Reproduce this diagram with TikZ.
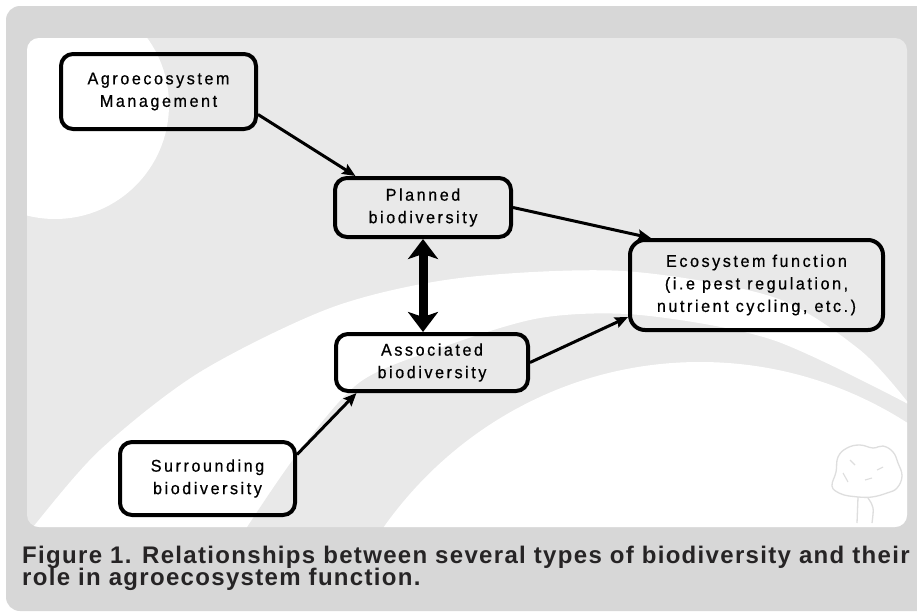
\documentclass[tikz,border=0pt]{standalone}
\usepackage{fontspec}
\usepackage{tikz}
\usetikzlibrary{arrows.meta, calc}
\newfontfamily\boxfont[LetterSpace=15, FakeStretch=0.95, FakeBold=0.6]{Liberation Sans}
\newfontfamily\capfont[LetterSpace=5.5]{Liberation Sans}
\definecolor{framecolor}{RGB}{215, 215, 215}
\definecolor{panelcolor}{RGB}{233, 233, 233}
\definecolor{treecolor}{RGB}{222, 222, 222}
\definecolor{captioncolor}{RGB}{38, 36, 37}

\begin{document}
\begin{tikzpicture}[x=1pt, y=-1pt, every node/.style={align=center},
    bio/.style={draw, line width=4pt, rounded corners=12pt, inner sep=0pt, font=\boxfont\fontsize{17}{22.5}\selectfont},
    flow/.style={-{Stealth[length=13pt, width=11pt, inset=2pt]}, line width=3pt},
    biflow/.style={{Stealth[length=20pt, width=30pt, inset=5pt]}-{Stealth[length=20pt, width=30pt, inset=5pt]}, line width=9pt},
    caption/.style={anchor=base west, inner sep=0pt, text=captioncolor, font=\capfont\bfseries\fontsize{24}{22}\selectfont}]
        \useasboundingbox (0, 0) rectangle (917, 613);
        \clip (0, 0) rectangle (917, 613);
        
        % Frame and panel
        \fill[framecolor, rounded corners=14pt] (6, 6) rectangle (940, 611);
        \fill[panelcolor, rounded corners=12pt] (27, 38) rectangle (907, 527);
        
        % Background swooshes
        \begin{scope}
            \clip[rounded corners=12pt] (27, 38) rectangle (907, 527);
            \fill[white] (55, 105) circle (114);
            \fill[white] plot[smooth] coordinates {(20, 545) (33, 527) (100, 450) (200, 372) (333, 307) (460, 278) (623, 271) (773, 297) (860, 350) (910, 405)}
                -- plot[smooth] coordinates {(910, 405) (773, 340) (640, 315) (540, 318) (440, 348) (360, 382) (300, 450) (247, 527) (238, 545)} -- cycle;
            \fill[white] (700, 760) ellipse (390 and 398);
        \end{scope}
        
        % Tree
        \draw[treecolor, line width=1.3pt] plot[smooth cycle, tension=0.7] coordinates {(832, 486) (836, 472) (838, 457) (847, 448) (860, 445) (873, 448) (883, 446) (893, 452) (898, 463) (902, 476) (897, 488) (887, 493) (872, 497) (858, 497) (849, 496) (839, 493)};
        \draw[treecolor, line width=1.3pt] (858, 497) -- (857, 523);
        \draw[treecolor, line width=1.3pt] (868, 498) .. controls (874, 507) .. (872, 523);
        \draw[treecolor, line width=1.1pt] (850, 460) -- (855, 465);
        \draw[treecolor, line width=1.1pt] (843, 473) -- (848, 482);
        \draw[treecolor, line width=1.1pt] (877, 470) -- (883, 467);
        \draw[treecolor, line width=1.1pt] (865, 480) -- (872, 478);
        
        % Biodiversity boxes
        \node[bio, minimum width=195pt, minimum height=75pt] (agro) at (158.5, 91.5) {Agroecosystem\\Management};
        \node[bio, minimum width=176pt, minimum height=59pt] (planned) at (423, 207.5) {Planned\\biodiversity};
        \node[bio, minimum width=192pt, minimum height=57pt] (assoc) at (432, 362.5) {Associated\\biodiversity};
        \node[bio, minimum width=253pt, minimum height=90pt, rounded corners=15pt] (eco) at (756.5, 285) {Ecosystem function\\(i.e pest regulation,\\nutrient cycling, etc.)};
        \node[bio, minimum width=175pt, minimum height=73pt] (surr) at (207.5, 478.5) {Surrounding\\biodiversity};
        
        % Connections
        \draw[flow] (agro.-13) -- (planned.155.6);
        \draw[flow] (planned.east) -- (eco.156.4);
        \draw[flow] (assoc.east) -- (eco.-166.4);
        \draw[flow] (surr.15.3) -- (assoc.-158.4);
        \draw[biflow] (planned.south) -- (planned.south |- assoc.north);
        
        % Caption
        \node[caption] (cap1) at (22, 563.5) {Figure 1. Relationships between several types of biodiversity and their};
        \node[caption] (cap2) at (22, 585.5) {role in agroecosystem function.};
        
    \end{tikzpicture}
\end{document}
